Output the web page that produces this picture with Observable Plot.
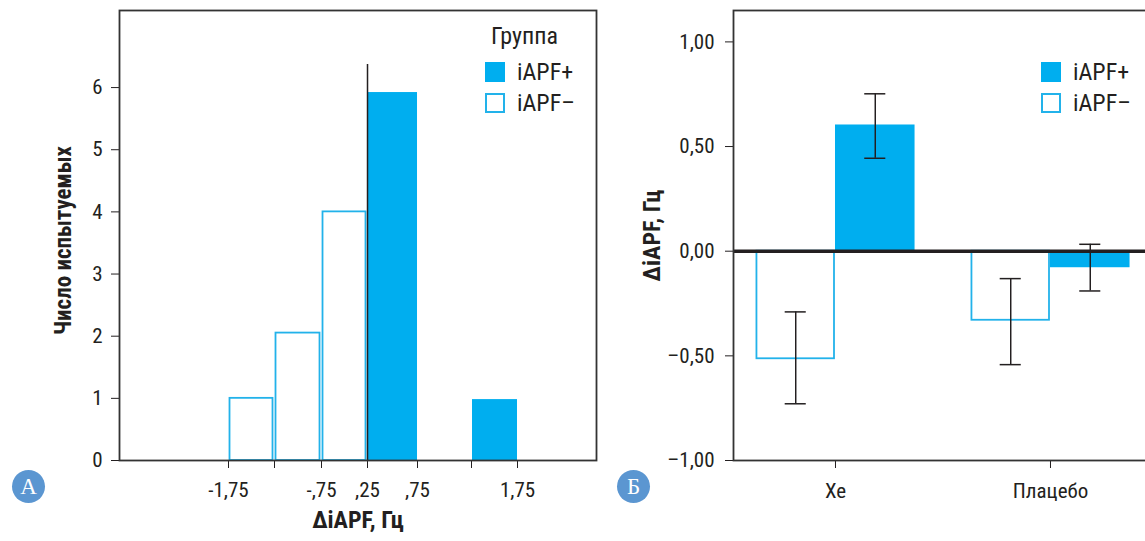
<!DOCTYPE html>
<html><head><meta charset="utf-8">
<script src="https://cdn.jsdelivr.net/npm/d3@7"></script>
<script src="https://cdn.jsdelivr.net/npm/@observablehq/plot@0.6"></script>
<style>
html,body{margin:0;padding:0;background:#fff;}
body{width:1145px;height:541px;overflow:hidden;position:relative;
  font-family:"Liberation Sans Narrow","Arial Narrow","Roboto Condensed","DejaVu Sans Condensed",sans-serif;color:#231f20;}
#a{position:absolute;left:0;top:0;width:600px;height:541px;}
#b{position:absolute;left:600px;top:0;width:545px;height:541px;overflow:hidden;}
#a svg,#b svg{max-width:none !important;}
.lg{position:absolute;font-size:24px;line-height:24px;white-space:nowrap;}
.sw{position:absolute;width:20px;height:20px;box-sizing:border-box;}
.badge{position:absolute;width:33px;height:33px;border-radius:50%;background:#5b96d1;color:#fff;
  font-family:"Liberation Serif","DejaVu Serif",serif;font-size:23px;text-align:center;line-height:34px;}
</style></head>
<body>
<div id="a"></div>
<div id="b"></div>
<script>
// ---------- Panel A: histogram ----------
const histEdges = [0, 0.955, 1.931, 2.886, 3.924, 5.045, 6.0];          // bin boundaries (as drawn)
const histTickLabels = ["-1,75", "", "-,75", ",25", ",75", "", "1,75"];
const histCounts = [1, 2.05, 4, 5.92, 0, 0.98];
const histGroups = ["iAPF–", "iAPF–", "iAPF–", "iAPF+", "iAPF+", "iAPF+"];
const countTicks = [0, 1, 2, 3, 4, 5, 6];
const cutoffEdge = 3;          // index of edge where the vertical line stands
const cutoffTop = 6.37;

// ---------- Panel B: bar chart with error bars ----------
const categories = ["Хе", "Плацебо"];
const plusMean = [0.603, -0.079];
const plusLo = [0.444, -0.19];
const plusHi = [0.752, 0.033];
const minusMean = [-0.514, -0.33];
const minusLo = [-0.729, -0.542];
const minusHi = [-0.29, -0.131];
const yTicksB = [-1, -0.5, 0, 0.5, 1];

const groups = ["iAPF+", "iAPF–"];
const FILL = "#00aeef";
const HOLLOW = "#22b2ea";
const INK = "#231f20";
const FONT = '"Liberation Sans Narrow","Arial Narrow","Roboto Condensed","DejaVu Sans Condensed",sans-serif';

const bins = histCounts.map((c, i) => ({x1: histEdges[i], x2: histEdges[i + 1], count: c, group: histGroups[i]}))
  .filter(d => d.count > 0);

const plotA = Plot.plot({
  width: 600, height: 541,
  marginLeft: 119, marginRight: 4, marginTop: 10, marginBottom: 81,
  style: {fontFamily: FONT, fontSize: "21px", color: INK, background: "transparent", overflow: "visible", maxWidth: "none"},
  x: {domain: [-2.263, 7.64], ticks: histEdges, tickFormat: d => histTickLabels[histEdges.indexOf(d)], tickSize: 8, tickPadding: 14, label: null},
  y: {domain: [0, 7.24], ticks: countTicks, tickFormat: d => String(d), tickSize: 8, tickPadding: 9, label: null},
  marks: [
    Plot.rect(bins.filter(d => d.group === "iAPF–"), {x1: "x1", x2: "x2", y1: 0, y2: "count", fill: "white", stroke: HOLLOW, strokeWidth: 1.8, insetLeft: 1.5, insetRight: 1.5}),
    Plot.rect(bins.filter(d => d.group === "iAPF+"), {x1: "x1", x2: "x2", y1: 0, y2: "count", fill: FILL, insetLeft: 1}),
    Plot.ruleX([{x: histEdges[cutoffEdge], top: cutoffTop}], {x: "x", y1: 0, y2: "top", stroke: INK, strokeWidth: 1.5}),
    Plot.frame({stroke: "#333", strokeWidth: 1.8}),
    Plot.text(["Число испытуемых"], {text: d => d, frameAnchor: "left", textAnchor: "middle", dx: -56, dy: 5, rotate: -90, fontWeight: "bold", fontSize: 23, fill: INK}),
    Plot.text(["ΔiAPF, Гц"], {text: d => d, frameAnchor: "bottom", textAnchor: "middle", dy: 67, fontWeight: "bold", fontSize: 24, fill: INK})
  ]
});
document.getElementById("a").appendChild(plotA);

// Panel B data rows
const W = 0.37;   // bar width in category units
const rowsB = [];
categories.forEach((c, i) => {
  rowsB.push({cat: i, group: "iAPF–", x1: i - W, x2: i, xc: i - W / 2, v: minusMean[i], lo: minusLo[i], hi: minusHi[i]});
  rowsB.push({cat: i, group: "iAPF+", x1: i, x2: i + W, xc: i + W / 2, v: plusMean[i], lo: plusLo[i], hi: plusHi[i]});
});
const CAP = 0.049;
const fmtB = d => (d < 0 ? "–" : "") + Math.abs(d).toFixed(2).replace(".", ",");

const plotB = Plot.plot({
  width: 575, height: 541,
  marginLeft: 133, marginRight: 0, marginTop: 10, marginBottom: 81,
  style: {fontFamily: FONT, fontSize: "21px", color: INK, background: "transparent", overflow: "visible", maxWidth: "none"},
  x: {domain: [-0.4744, 1.5814], ticks: [0, 1], tickFormat: d => categories[d], tickSize: 8, tickPadding: 15, label: null},
  y: {domain: [-1, 1.15], ticks: yTicksB, tickFormat: fmtB, tickSize: 8, tickPadding: 11, label: null},
  marks: [
    Plot.rect(rowsB.filter(d => d.group === "iAPF–"), {x1: "x1", x2: "x2", y1: 0, y2: "v", fill: "white", stroke: HOLLOW, strokeWidth: 1.8, insetLeft: 1, insetRight: 1}),
    Plot.rect(rowsB.filter(d => d.group === "iAPF+"), {x1: "x1", x2: "x2", y1: 0, y2: "v", fill: FILL}),
    Plot.ruleY([0], {stroke: INK, strokeWidth: 3.5}),
    Plot.ruleX(rowsB, {x: "xc", y1: "lo", y2: "hi", stroke: INK, strokeWidth: 1.5}),
    Plot.ruleY(rowsB, {y: "lo", x1: d => d.xc - CAP, x2: d => d.xc + CAP, stroke: INK, strokeWidth: 1.5}),
    Plot.ruleY(rowsB, {y: "hi", x1: d => d.xc - CAP, x2: d => d.xc + CAP, stroke: INK, strokeWidth: 1.5}),
    Plot.frame({stroke: "#333", strokeWidth: 1.8}),
    Plot.text(["ΔiAPF, Гц"], {text: d => d, frameAnchor: "left", textAnchor: "middle", dx: -81, rotate: -90, fontWeight: "bold", fontSize: 24, fill: INK})
  ]
});
document.getElementById("b").appendChild(plotB);

// ---------- legends & badges (HTML overlays) ----------
function legend(x, y, title) {
  if (title) {
    const t = document.createElement("div");
    t.className = "lg"; t.textContent = title;
    t.style.left = (x + 6) + "px"; t.style.top = (y - 38) + "px";
    document.body.appendChild(t);
  }
  groups.forEach((g, i) => {
    const sw = document.createElement("div");
    sw.className = "sw";
    sw.style.left = x + "px"; sw.style.top = (y + i * 31) + "px";
    if (g === "iAPF+") sw.style.background = FILL;
    else { sw.style.background = "#fff"; sw.style.border = "2px solid " + HOLLOW; }
    document.body.appendChild(sw);
    const lab = document.createElement("div");
    lab.className = "lg"; lab.textContent = g;
    lab.style.left = (x + 32) + "px"; lab.style.top = (y + i * 31 - 2) + "px";
    document.body.appendChild(lab);
  });
}
legend(485, 62, "Группа");
legend(1041, 62, null);

function badge(x, y, letter) {
  const b = document.createElement("div");
  b.className = "badge"; b.textContent = letter;
  b.style.left = x + "px"; b.style.top = y + "px";
  document.body.appendChild(b);
}
badge(12, 470, "А");
badge(617, 470, "Б");
</script>
</body></html>
